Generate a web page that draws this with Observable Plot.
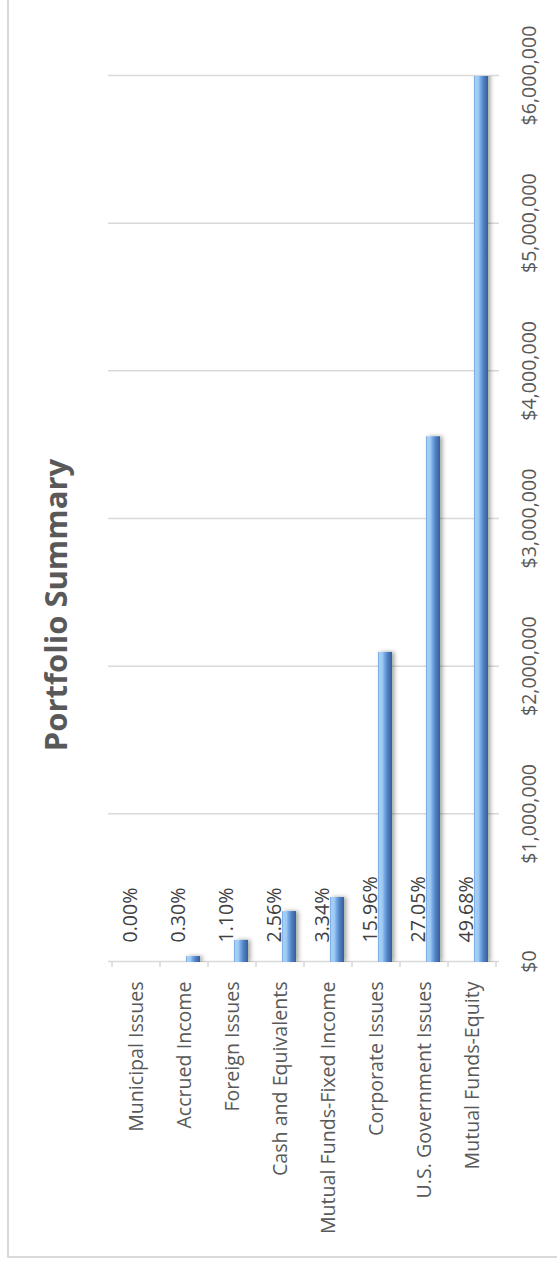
<!DOCTYPE html>
<html><head><meta charset="utf-8">
<script src="https://cdn.jsdelivr.net/npm/d3@7"></script>
<script src="https://cdn.jsdelivr.net/npm/@observablehq/plot@0.6"></script>
<style>
html,body{margin:0;padding:0;background:#fff;overflow:hidden;width:557px;height:1263px;}
#wrap{position:absolute;left:0;top:0;width:1263px;height:557px;overflow:hidden;transform-origin:0 0;transform:translate(0,1263px) rotate(-90deg);background:#fff;font-family:"Open Sans",sans-serif;}
#border{position:absolute;left:5px;top:7px;width:1400px;height:700px;border:2px solid #d9d9d9;box-sizing:border-box;}
#title{position:absolute;left:358px;width:600px;top:39.5px;text-align:center;font:700 31px/31px "Open Sans",sans-serif;color:#595959;white-space:nowrap;}
#chart{position:absolute;left:0;top:0;}
</style></head>
<body><div id="wrap"><div id="border"></div><div id="chart"></div><div id="title">Portfolio Summary</div></div>
<script>
const categories = ["Municipal Issues", "Accrued Income", "Foreign Issues", "Cash and Equivalents", "Mutual Funds-Fixed Income", "Corporate Issues", "U.S. Government Issues", "Mutual Funds-Equity"];
const values = [0, 40000, 150000, 345000, 440000, 2100000, 3560000, 6520000];
const percents = [0.00, 0.30, 1.10, 2.56, 3.34, 15.96, 27.05, 49.68];
const valueTicks = [0, 1000000, 2000000, 3000000, 4000000, 5000000, 6000000];

const data = categories.map((c, i) => ({category: c, value: values[i], pct: percents[i]}));
const money = d => "$" + d3.format(",")(d);

const categoryTicks = (index, {x, y}) => {
  const g = d3.create("svg:g").attr("stroke", "#d9d9d9").attr("stroke-width", 1.5);
  const bw = y.bandwidth();
  const edges = categories.map(c => y(c)).concat([y(categories[categories.length - 1]) + bw]);
  for (const e of edges) {
    g.append("line").attr("x1", x(0) - 5).attr("x2", x(0)).attr("y1", e).attr("y2", e);
  }
  return g.node();
};

const chart = Plot.plot({
  width: 1263, height: 557,
  marginLeft: 301, marginRight: 76, marginTop: 108, marginBottom: 58,
  style: {fontFamily: '"Open Sans", sans-serif', fontSize: "19.6px", color: "#595959", background: "transparent", overflow: "visible"},
  x: {domain: [0, 6000000], label: null},
  y: {domain: categories, padding: 0, label: null},
  marks: [
    Plot.gridX(valueTicks, {stroke: "#d9d9d9", strokeOpacity: 1, strokeWidth: 1.5}),
    Plot.axisX(valueTicks, {anchor: "bottom", tickSize: 0, tickPadding: 23, tickFormat: money, label: null}),
    Plot.axisY({anchor: "left", tickSize: 0, tickPadding: 20, label: null}),
    categoryTicks,
    Plot.barX(data, {x: "value", y: "category", fill: "url(#barGrad)", insetTop: 26, insetBottom: 8, clip: true}),
    Plot.text(data, {x: d => 0, y: "category", text: d => d.pct.toFixed(2) + "%", textAnchor: "start", lineAnchor: "bottom", dx: 19, dy: 0.5, fill: "#404040"})
  ]
});

const svg = d3.select(chart);
const defs = svg.insert("defs", ":first-child");
const grad = defs.append("linearGradient").attr("id", "barGrad").attr("x1", 0).attr("y1", 0).attr("x2", 0).attr("y2", 1);
[[0, "#6a9fdb"], [0.1, "#a6cff7"], [0.3, "#a0cbf4"], [0.48, "#72a6e0"], [0.7, "#4c7fc2"], [1, "#365f98"]]
  .forEach(([o, c]) => grad.append("stop").attr("offset", o).attr("stop-color", c));
const filt = defs.append("filter").attr("id", "barShadow").attr("x", "-20%").attr("y", "-50%").attr("width", "140%").attr("height", "200%");
filt.append("feDropShadow").attr("dx", 0).attr("dy", 2.5).attr("stdDeviation", 2).attr("flood-color", "#000").attr("flood-opacity", 0.35);
svg.selectAll('g[aria-label="bar"]').attr("filter", "url(#barShadow)");

document.getElementById("chart").appendChild(chart);
</script></body></html>
